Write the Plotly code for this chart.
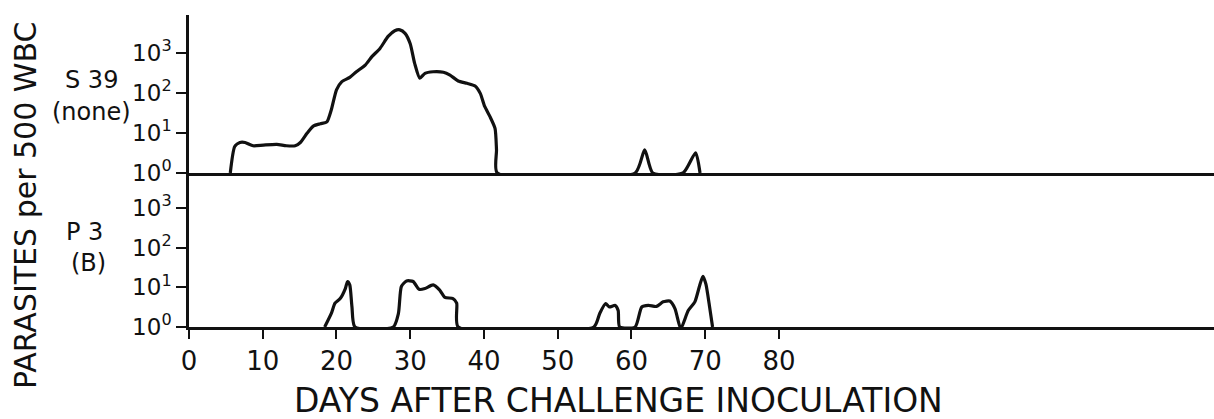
import plotly.graph_objects as go

# Parasite counts per 500 WBC, by day after challenge inoculation
s39_days = [5.6, 6.2, 6.9, 7.6, 8.7, 10.1, 11.9, 13.2, 14.4, 15.1, 16.0, 16.9, 17.8, 18.7,
            19.3, 20.0, 20.7, 21.8, 22.7, 23.9, 24.8, 25.9, 27.0, 27.9, 28.6, 29.3, 30.0,
            30.6, 31.3, 32.0, 33.1, 34.5, 35.4, 36.5, 37.7, 38.8, 39.5, 40.1, 40.8, 41.5,
            41.7, 41.8, 60.5, 61.8, 62.9, 67.0, 68.7, 69.3]
s39_counts = [1, 4.6, 5.8, 5.8, 4.8, 5.0, 5.2, 4.8, 4.8, 5.8, 9.8, 15, 17, 19,
              38, 120, 190, 245, 340, 500, 810, 1300, 2600, 3600, 3800, 3100, 1700,
              550, 235, 310, 340, 330, 280, 200, 175, 150, 98, 46, 26, 13,
              3.8, 1, 1, 3.8, 1, 1, 3.2, 1]

p3_days = [18.4, 19.3, 19.8, 20.5, 21.2, 21.5, 21.8, 22.1, 22.5,
           27.7, 28.4, 28.8, 29.5, 30.4, 31.2, 32.0, 33.1, 34.0, 34.7, 35.8, 36.3, 36.5,
           54.9, 55.7, 56.5, 57.0, 57.8, 58.2, 58.4,
           60.5, 61.4, 62.3, 63.4, 64.3, 65.2, 65.9, 66.6,
           66.8, 67.7, 68.6, 69.3, 69.7, 70.1, 70.6, 71.0]
p3_counts = [1, 2.2, 4.0, 5.2, 9.3, 14, 11.5, 3.2, 1,
             1, 2.2, 10.5, 14.5, 14, 8.9, 9.3, 11.5, 8.5, 5.6, 5.2, 4.0, 1,
             1, 2.2, 3.9, 3.2, 3.5, 2.6, 1,
             1, 3.2, 3.5, 3.3, 4.3, 4.5, 2.9, 1,
             1, 2.6, 4.3, 12, 19, 12, 3.2, 1]

x_ticks = [0, 10, 20, 30, 40, 50, 60, 70, 80]
y_ticks = [1, 10, 100, 1000]
y_ticktext = ["10<sup>0</sup>", "10<sup>1</sup>", "10<sup>2</sup>", "10<sup>3</sup>"]

INK = "#111111"
FONT = "DejaVu Sans"
line_style = dict(color=INK, width=3.2, shape="spline", smoothing=0.6)

fig = go.Figure()
fig.add_trace(go.Scatter(x=s39_days, y=s39_counts, mode="lines", line=line_style,
                         xaxis="x2", yaxis="y2", showlegend=False, hoverinfo="skip"))
fig.add_trace(go.Scatter(x=p3_days, y=p3_counts, mode="lines", line=line_style,
                         xaxis="x", yaxis="y", showlegend=False, hoverinfo="skip"))

split = 0.4936
common_y = dict(type="log", tickvals=y_ticks, ticktext=y_ticktext, ticks="outside",
                ticklen=10, tickwidth=2, tickcolor=INK, showline=True, linewidth=2.5,
                linecolor=INK, showgrid=False, zeroline=False,
                tickfont=dict(family=FONT, size=23, color=INK))

fig.update_layout(
    width=1214, height=419,
    margin=dict(l=189, r=0, t=15, b=92),
    paper_bgcolor="white", plot_bgcolor="white",
    xaxis=dict(range=[0, 139], tickvals=x_ticks, ticks="outside", ticklen=9, tickwidth=2,
               tickcolor=INK, showline=True, linewidth=2.5, linecolor=INK, showgrid=False,
               zeroline=False, anchor="y", tickfont=dict(family=FONT, size=26, color=INK)),
    xaxis2=dict(range=[0, 139], matches="x", showticklabels=False, ticks="", showline=True,
                linewidth=2.5, linecolor=INK, showgrid=False, zeroline=False, anchor="y2"),
    yaxis=dict(domain=[0, split], range=[0, 3.88], anchor="x", **common_y),
    yaxis2=dict(domain=[split, 1], range=[0, 3.95], anchor="x2", **common_y),
)

def label(text, x, y, size, angle=0, family=FONT):
    fig.add_annotation(text=text, xref="paper", yref="paper", x=x, y=y, showarrow=False,
                       textangle=angle, xanchor="center", yanchor="middle",
                       font=dict(family=family, size=size, color=INK))

label("DAYS AFTER CHALLENGE INOCULATION", 0.4190, -0.2340, 33)
label("PARASITES per 500 WBC", -0.159, 0.388, 30, angle=-90)
label("S 39", -0.0956, 0.7917, 24)
label("(none)", -0.0956, 0.689, 24)
label("P 3", -0.1024, 0.3045, 24)
label("(B)", -0.0976, 0.205, 24)

fig.write_html("out.html")
